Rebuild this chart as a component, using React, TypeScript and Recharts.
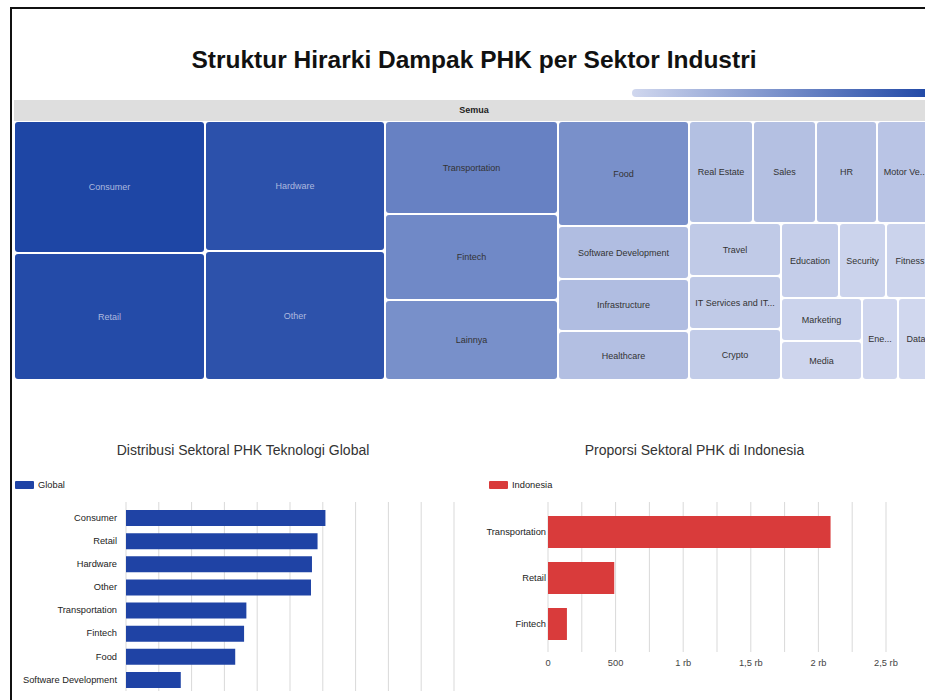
import { BarChart, Bar, XAxis, YAxis, CartesianGrid, Treemap } from 'recharts'

// treemap: all sectors (global + Indonesia)
const treeSectors = [
  'Consumer', 'Retail', 'Hardware', 'Other', 'Transportation', 'Fintech', 'Lainnya',
  'Food', 'Software Development', 'Infrastructure', 'Healthcare', 'Real Estate', 'Sales',
  'HR', 'Motor Vehicle Manufacturing', 'Travel', 'IT Services and IT Consulting', 'Crypto',
  'Education', 'Security', 'Fitness', 'Marketing', 'Media', 'Energy', 'Data',
]
const treeValues = [
  60800, 58900, 56700, 56400, 38800, 36100, 33500,
  33300, 16700, 16600, 15800, 15700, 15600,
  15100, 13900, 11900, 11800, 11100,
  10600, 8600, 8500, 8400, 7700, 7200, 7000,
]

const globalSectors = [
  'Consumer', 'Retail', 'Hardware', 'Other', 'Transportation', 'Fintech', 'Food', 'Software Development',
]
const globalLayoffs = [60800, 58400, 56700, 56400, 36700, 36000, 33300, 16700]
// gridlines only: the axis labels of this chart fall below the visible frame
const globalTicks = [0, 10000, 20000, 30000, 40000, 50000, 60000, 70000, 80000, 90000, 100000]

const idSectors = ['Transportation', 'Retail', 'Fintech']
const idLayoffs = [2090, 490, 140]
const idTicks = [0, 250, 500, 750, 1000, 1250, 1500, 1750, 2000, 2250, 2500]
const idTickLabels = ['0', '', '500', '', '1 rb', '', '1,5 rb', '', '2 rb', '', '2,5 rb']

const treeData = treeSectors.map((name, i) => ({ name, value: treeValues[i] }))
const globalData = globalSectors.map((sector, i) => ({ sector, value: globalLayoffs[i] }))
const idData = idSectors.map((sector, i) => ({ sector, value: idLayoffs[i] }))

const FONT = '"Liberation Sans", Arial, sans-serif'
const LIGHT = [208, 215, 238]
const DARK = [30, 70, 165]
const minV = Math.min(...treeValues)
const maxV = Math.max(...treeValues)

const shade = (v: number) => (v - minV) / (maxV - minV)

function cellColor(v: number) {
  const t = shade(v)
  const c = LIGHT.map((l, k) => Math.round(l + (DARK[k] - l) * t))
  return `rgb(${c.join(',')})`
}

let ctx: CanvasRenderingContext2D | null = null
function textWidth(s: string) {
  if (!ctx) ctx = document.createElement('canvas').getContext('2d')
  if (!ctx) return s.length * 5
  ctx.font = `9px ${FONT}`
  return ctx.measureText(s).width
}

function fitLabel(name: string, room: number) {
  if (textWidth(name) <= room) return name
  for (let n = name.length - 1; n > 0; n--) {
    const s = name.slice(0, n).trimEnd() + '...'
    if (textWidth(s) <= room) return s
  }
  return ''
}

function TreeCell(props: any) {
  const { x, y, width, height, depth, name, value } = props
  if (depth !== 1) return null
  const dark = shade(value) > 0.7
  return (
    <g>
      <rect x={x + 1} y={y + 1} width={width - 2} height={height - 2} rx={3} fill={cellColor(value)} />
      <text
        x={x + width / 2}
        y={y + height / 2}
        dy="0.35em"
        textAnchor="middle"
        fontSize={9}
        fill={dark ? '#adb9df' : '#333'}
      >
        {fitLabel(name, width - 10)}
      </text>
    </g>
  )
}

// category labels on one line (no wrapping)
function SectorTick(props: any) {
  const { x, y, payload } = props
  return (
    <text x={x} y={y} dy="0.35em" textAnchor="end" fontSize={9.3} fill="#222">
      {payload.value}
    </text>
  )
}

const titleStyle = {
  position: 'absolute' as const,
  top: 442,
  fontSize: 14,
  lineHeight: '16px',
  color: '#333',
  textAlign: 'center' as const,
}

function LegendItem({ left, color, label }: { left: number; color: string; label: string }) {
  return (
    <div style={{ position: 'absolute', left, top: 480, display: 'flex', alignItems: 'center', fontSize: 9.3, color: '#222' }}>
      <div style={{ width: 19, height: 8, background: color, borderRadius: 1, marginRight: 4 }} />
      <span>{label}</span>
    </div>
  )
}

export default function App() {
  return (
    <div
      style={{
        position: 'fixed',
        left: 0,
        top: 0,
        width: 925,
        height: 700,
        overflow: 'hidden',
        background: '#fff',
        fontFamily: FONT,
      }}
    >
      <div
        style={{
          position: 'absolute',
          left: 10,
          top: 7,
          width: 1200,
          height: 1200,
          borderLeft: '2px solid #111',
          borderTop: '2px solid #111',
        }}
      />

      <div
        style={{
          position: 'absolute',
          left: 14,
          top: 46,
          width: 920,
          textAlign: 'center',
          fontSize: 24.5,
          lineHeight: '28px',
          fontWeight: 'bold',
          color: '#111',
        }}
      >
        Struktur Hirarki Dampak PHK per Sektor Industri
      </div>

      {/* colour scale */}
      <div
        style={{
          position: 'absolute',
          left: 632,
          top: 89,
          width: 302,
          height: 8,
          borderRadius: 4,
          background: `linear-gradient(to right, ${cellColor(minV)}, ${cellColor(maxV)})`,
        }}
      />

      <div
        style={{
          position: 'absolute',
          left: 14,
          top: 100,
          width: 920,
          height: 21,
          lineHeight: '21px',
          background: '#dedede',
          textAlign: 'center',
          fontSize: 9,
          fontWeight: 'bold',
          color: '#222',
        }}
      >
        Semua
      </div>

      <div style={{ position: 'absolute', left: 14, top: 121 }}>
        <Treemap
          width={920}
          height={259}
          data={treeData}
          dataKey="value"
          nameKey="name"
          isAnimationActive={false}
          content={<TreeCell />}
        />
      </div>

      <div style={{ ...titleStyle, left: 14, width: 458 }}>Distribusi Sektoral PHK Teknologi Global</div>
      <LegendItem left={15} color="#1f43a5" label="Global" />

      <div style={{ position: 'absolute', left: 0, top: 440 }}>
        <BarChart
          layout="vertical"
          width={470}
          height={281}
          data={globalData}
          margin={{ top: 62, right: 16, bottom: 0, left: 0 }}
          barSize={16}
        >
          <CartesianGrid horizontal={false} stroke="#d9d9d9" />
          <XAxis
            type="number"
            domain={[0, 100000]}
            ticks={globalTicks}
            interval={0}
            axisLine={false}
            tickLine={false}
            tickFormatter={() => ''}
          />
          <YAxis
            type="category"
            dataKey="sector"
            width={126}
            interval={0}
            axisLine={false}
            tickLine={false}
            tickSize={0}
            tickMargin={9}
            padding={{ top: 4, bottom: 0 }}
            tick={<SectorTick />}
          />
          <Bar dataKey="value" name="Global" fill="#1f43a5" isAnimationActive={false} />
        </BarChart>
      </div>

      <div style={{ ...titleStyle, left: 465, width: 459 }}>Proporsi Sektoral PHK di Indonesia</div>
      <LegendItem left={489} color="#d93b3b" label="Indonesia" />

      <div style={{ position: 'absolute', left: 465, top: 440 }}>
        <BarChart
          layout="vertical"
          width={440}
          height={242}
          data={idData}
          margin={{ top: 62, right: 19, bottom: 0, left: 0 }}
          barSize={32}
        >
          <CartesianGrid horizontal={false} stroke="#d9d9d9" />
          <XAxis
            type="number"
            domain={[0, 2500]}
            ticks={idTicks}
            interval={0}
            axisLine={false}
            tickLine={false}
            tickSize={0}
            tickMargin={7}
            height={30}
            tick={{ fontSize: 9.3, fill: '#444' }}
            tickFormatter={(v: number) => idTickLabels[idTicks.indexOf(v)] ?? ''}
          />
          <YAxis
            type="category"
            dataKey="sector"
            width={83}
            interval={0}
            axisLine={false}
            tickLine={false}
            tickSize={0}
            tickMargin={2}
            padding={{ top: 7, bottom: 5 }}
            tick={<SectorTick />}
          />
          <Bar dataKey="value" name="Indonesia" fill="#d93b3b" isAnimationActive={false} />
        </BarChart>
      </div>
    </div>
  )
}
